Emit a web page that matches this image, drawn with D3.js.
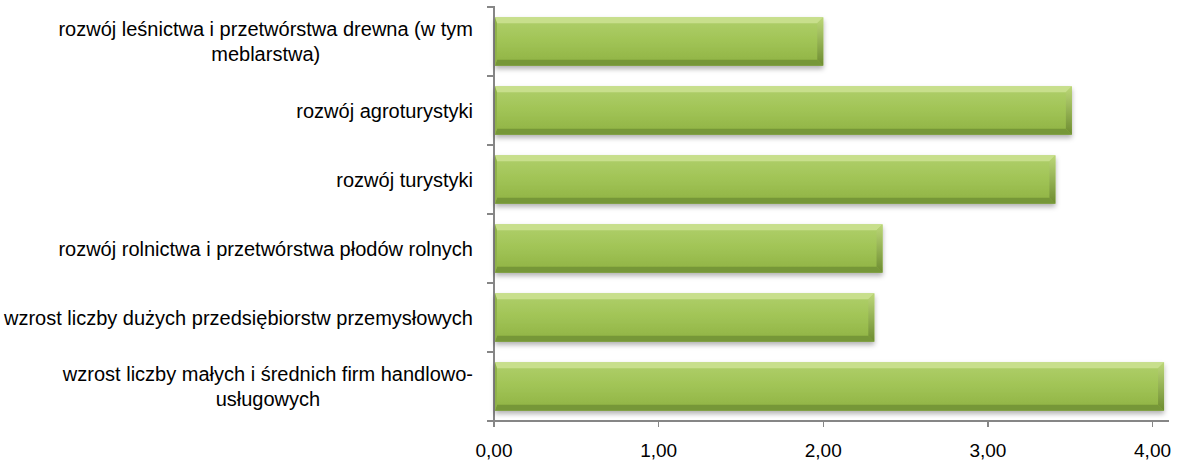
<!DOCTYPE html>
<html><head><meta charset="utf-8">
<script src="https://cdn.jsdelivr.net/npm/d3@7"></script>
<style>
html,body{margin:0;padding:0;background:#fff;}
text{font-family:"Liberation Sans",Arial,sans-serif;}
</style></head>
<body><svg id="c" width="1183" height="462"></svg>
<script>
const categories = [
  ["rozwój leśnictwa i przetwórstwa drewna (w tym", "meblarstwa)"],
  ["rozwój agroturystyki"],
  ["rozwój turystyki "],
  ["rozwój rolnictwa i przetwórstwa płodów rolnych"],
  ["wzrost liczby dużych przedsiębiorstw przemysłowych"],
  ["wzrost liczby małych i średnich firm handlowo-", "usługowych"]
];
const values = [2.00, 3.51, 3.41, 2.36, 2.31, 4.07];
const xTicks = [0, 1, 2, 3, 4];

(function(){
const svg = d3.select("#c");
const pL = 494, pR = 1169, pT = 7, pB = 421;
const FS = 20;
const x = d3.scaleLinear().domain([0, 4.1]).range([pL, pR]);
const y = d3.scaleBand().domain(d3.range(categories.length)).range([pT, pB]).paddingInner(0.3).paddingOuter(0.15);
const yb = d3.scaleBand().domain(d3.range(categories.length)).range([pT, pB]);
const loc = d3.formatLocale({decimal: ",", thousands: " ", grouping: [3], currency: ["", ""]});
const fmt = loc.format(".2f");

const defs = svg.append("defs");
const g1 = defs.append("linearGradient").attr("id","face").attr("x1",0).attr("y1",0).attr("x2",0).attr("y2",1);
g1.append("stop").attr("offset","0%").attr("stop-color","#b0cf6c");
g1.append("stop").attr("offset","45%").attr("stop-color","#a2c557");
g1.append("stop").attr("offset","100%").attr("stop-color","#8fb244");
const gr = defs.append("linearGradient").attr("id","rside").attr("x1",0).attr("y1",0).attr("x2",0).attr("y2",1);
gr.append("stop").attr("offset","0%").attr("stop-color","#bcd778");
gr.append("stop").attr("offset","100%").attr("stop-color","#6d8c30");
const f = defs.append("filter").attr("id","sh").attr("x","-5%").attr("y","-20%").attr("width","110%").attr("height","160%");
f.append("feDropShadow").attr("dx",0).attr("dy",3).attr("stdDeviation",2.5).attr("flood-color","#000").attr("flood-opacity",0.3);

const axisColor = "#868686";
const ax = svg.append("g").attr("stroke", axisColor).attr("stroke-width", 1.2).attr("shape-rendering","crispEdges");
ax.append("line").attr("x1", x(0)).attr("x2", x(0)).attr("y1", pT - 1).attr("y2", pB + 6);
ax.append("line").attr("x1", x(0) - 7).attr("x2", pR).attr("y1", pB).attr("y2", pB);
d3.range(categories.length + 1).forEach(i => {
  const yy = i < categories.length ? yb(i) : pB;
  ax.append("line").attr("x1", x(0) - 7).attr("x2", x(0)).attr("y1", yy).attr("y2", yy);
});
xTicks.forEach(t => {
  ax.append("line").attr("x1", x(t)).attr("x2", x(t)).attr("y1", pB).attr("y2", pB + 6);
});
svg.append("g").selectAll("text").data(xTicks).join("text")
  .attr("x", d => x(d)).attr("y", 457).attr("text-anchor","middle")
  .attr("font-size", 19).attr("fill","#000").text(d => fmt(d));

const b = 6;
const bars = svg.append("g").selectAll("g").data(values).join("g").attr("filter","url(#sh)");
bars.each(function(v, i) {
  const g = d3.select(this);
  const x0 = x(0) + 1, x1 = x(v), y0 = y(i), y1 = y(i) + y.bandwidth();
  g.append("rect").attr("x", x0).attr("y", y0).attr("width", x1 - x0).attr("height", y1 - y0).attr("fill","url(#face)");
  const poly = (pts, fill) => g.append("polygon").attr("points", pts.map(p => p.join(",")).join(" ")).attr("fill", fill);
  poly([[x0,y0],[x1,y0],[x1-b,y0+b],[x0+2,y0+b]], "#c8df8c");
  poly([[x0,y1],[x1,y1],[x1-b,y1-b],[x0+2,y1-b]], "#769737");
  poly([[x1,y0],[x1,y1],[x1-b,y1-b],[x1-b,y0+b]], "url(#rside)");
  poly([[x0,y0],[x0+2,y0+b],[x0+2,y1-b],[x0,y1]], "#90b248");
});

const meas = svg.append("text").attr("font-size", FS).attr("visibility","hidden");
const tw = s => { meas.text(s); return meas.node().getComputedTextLength(); };
const lab = svg.append("g");
categories.forEach((lines, i) => {
  const cy = yb(i) + yb.bandwidth() / 2;
  const lh = 25;
  const w = d3.max(lines, s => tw(s.trimEnd()));
  const cx = 473 - w / 2;
  lines.forEach((ln, k) => {
    lab.append("text").attr("text-anchor","middle").attr("font-size", FS).attr("fill","#000")
      .attr("x", cx).attr("y", cy + (k - (lines.length - 1) / 2) * lh + 7).text(ln.trimEnd());
  });
});
meas.remove();
})();
</script></body></html>
